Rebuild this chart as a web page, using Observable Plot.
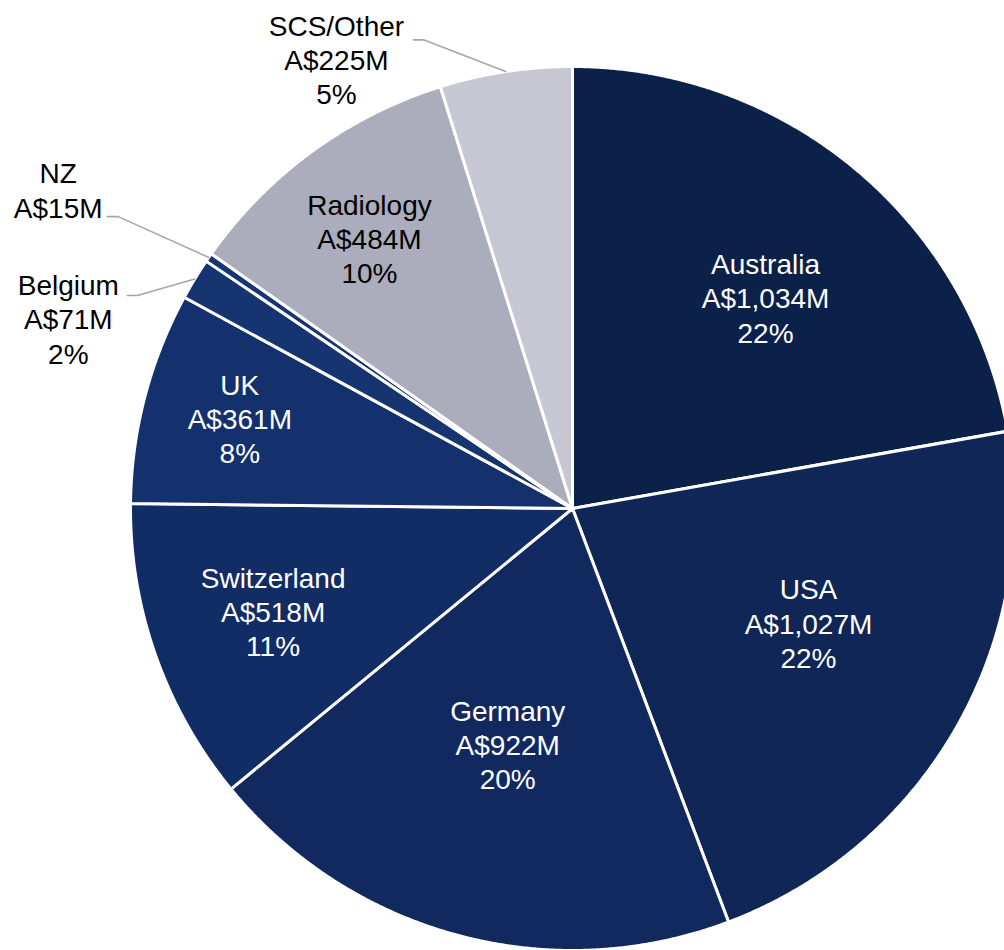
<!DOCTYPE html>
<html>
<head>
<meta charset="utf-8">
<script src="https://cdn.jsdelivr.net/npm/d3@7"></script>
<script src="https://cdn.jsdelivr.net/npm/@observablehq/plot@0.6"></script>
<style>
  html, body { margin: 0; padding: 0; background: #fff; overflow: hidden; }
  #chart { width: 1004px; height: 950px; overflow: hidden; }
</style>
</head>
<body>
<div id="chart"></div>
<script>
// ---- data ----
const names = ["Australia", "USA", "Germany", "Switzerland", "UK", "Belgium", "NZ", "Radiology", "SCS/Other"];
const values = [1034, 1027, 922, 518, 361, 71, 15, 484, 225];
const valueLabels = ["A$1,034M", "A$1,027M", "A$922M", "A$518M", "A$361M", "A$71M", "A$15M", "A$484M", "A$225M"];
const pctLabels = ["22%", "22%", "20%", "11%", "8%", "2%", "", "10%", "5%"];

// ---- style / layout ----
const colors = ["#0c2149", "#0f2656", "#11295e", "#122c65", "#14316d", "#153470", "#153470", "#abadbd", "#c6c7d3"];
const R = 442, cx = 572, cy = 508;
// label placement: polar position (deg clockwise from top, radius fraction)
const labelLayout = {
  "Australia":   {angle: 42.45, r: 0.647, color: "#ffffff"},
  "USA":         {angle: 115.8, r: 0.593, color: "#ffffff"},
  "Germany":     {angle: 195.4, r: 0.552, color: "#ffffff"},
  "Switzerland": {angle: 251.1, r: 0.716, color: "#ffffff"},
  "UK":          {angle: 285.2, r: 0.78,  color: "#ffffff"},
  "Radiology":   {angle: 323.1, r: 0.765, color: "#000000"},
  // outside labels with leader anchor offset (px from label centre)
  "SCS/Other":   {angle: 332.3, r: 1.149, color: "#000000", lx: 77, ly: -19, elbow: 10},
  "NZ":          {angle: 301.8, r: 1.369, color: "#000000", lx: 49, ly: 27, elbow: 11},
  "Belgium":     {angle: 290.65, r: 1.219, color: "#000000", lx: 59, ly: -23, elbow: 10}
};

// ---- geometry from data ----
const arcs = d3.pie().sort(null).value(d => d)(values);
const pt = (a, r) => ({x: r * Math.sin(a), y: r * Math.cos(a)});
const slicePts = [];
arcs.forEach((a, i) => {
  const name = names[i];
  slicePts.push({name, ...pt(0, 0)});
  const n = Math.max(2, Math.ceil((a.endAngle - a.startAngle) / (Math.PI / 720)));
  for (let k = 0; k <= n; k++) {
    const t = a.startAngle + (a.endAngle - a.startAngle) * k / n;
    slicePts.push({name, ...pt(t, 1)});
  }
  slicePts.push({name, ...pt(0, 0)});
});

const labels = [];
const leaderPts = [];
arcs.forEach((a, i) => {
  const name = names[i];
  const mid = (a.startAngle + a.endAngle) / 2;
  const text = [name, valueLabels[i], pctLabels[i]].filter(s => s).join("\n");
  const o = labelLayout[name];
  const p = pt(o.angle * Math.PI / 180, o.r);
  labels.push({name, text, color: o.color, ...p});
  if (o.lx != null) {
    const rim = pt(mid, 1);
    const sx = p.x + o.lx / R, sy = p.y - o.ly / R;
    leaderPts.push({name, ...rim});
    leaderPts.push({name, x: sx + o.elbow / R, y: sy});
    leaderPts.push({name, x: sx, y: sy});
  }
});

const font = "'Liberation Sans', Arial, Helvetica, sans-serif";

const chart = Plot.plot({
  width: 1004,
  height: 950,
  margin: 0,
  style: {overflow: "hidden", background: "#fff"},
  x: {domain: [-1, 1], range: [cx - R, cx + R], axis: null},
  y: {domain: [-1, 1], range: [cy + R, cy - R], axis: null},
  color: {domain: names, range: colors},
  marks: [
    Plot.line(slicePts, {x: "x", y: "y", z: "name", fill: "name", stroke: "#ffffff", strokeWidth: 3, strokeLinejoin: "round"}),
    Plot.line(leaderPts, {x: "x", y: "y", z: "name", stroke: "#a6a6a6", strokeWidth: 1.6}),
    Plot.text(labels.filter(d => d.color === "#ffffff"), {x: "x", y: "y", text: "text", fill: "#ffffff", fontSize: 28, lineHeight: 1.22, fontFamily: font}),
    Plot.text(labels.filter(d => d.color !== "#ffffff"), {x: "x", y: "y", text: "text", fill: "#000000", fontSize: 28, lineHeight: 1.22, fontFamily: font})
  ]
});
document.getElementById("chart").appendChild(chart);
</script>
</body>
</html>
